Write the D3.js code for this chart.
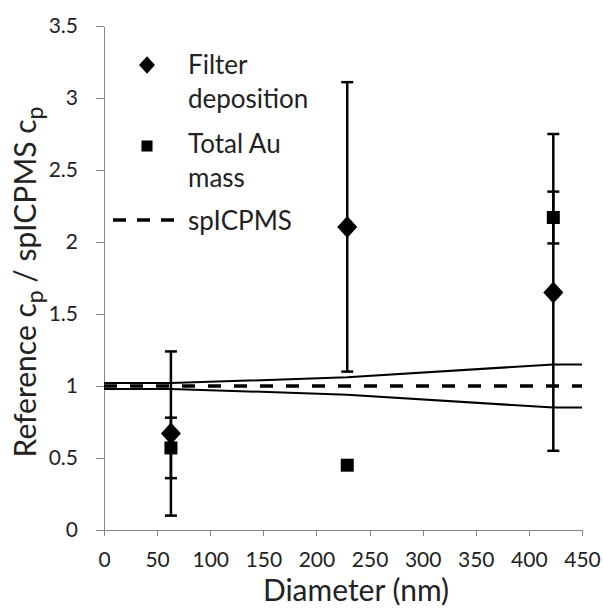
<!DOCTYPE html>
<meta charset="utf-8">
<style>
html, body { margin: 0; padding: 0; background: #fff; }
svg { display: block; }
text { font-family: Lato, "Open Sans", sans-serif; fill: #222; }
.axis path, .axis line { stroke: #868686; stroke-width: 1px; shape-rendering: crispEdges; }
.axis text { font-size: 21px; fill: #222; }
</style>
<svg width="603" height="611"></svg>
<script src="https://cdnjs.cloudflare.com/ajax/libs/d3/7.8.5/d3.min.js"></script>
<script>
// data
var diameter = [63, 229, 423];
var filterDep = [0.67, 2.105, 1.65];
var filterErr = [0.57, 1.005, 1.10];
var totalAu = [0.57, 0.45, 2.17];
var totalAuErr = [0.21, 0, 0.18];
var envD = [0, 63, 229, 423, 450];
var envUpper = [1.02, 1.02, 1.06, 1.15, 1.15];
var envLower = [0.98, 0.98, 0.94, 0.85, 0.85];
var spD = [0, 450];
var spVal = [1, 1];
var xTicks = [0, 50, 100, 150, 200, 250, 300, 350, 400, 450];
var yTicks = [0, 0.5, 1, 1.5, 2, 2.5, 3, 3.5];

var svg = d3.select("svg");
var x = d3.scaleLinear().domain([0, 450]).range([104, 582]);
var y = d3.scaleLinear().domain([0, 3.5]).range([530, 26]);

svg.append("g")
    .attr("class", "axis")
    .attr("transform", "translate(0," + y(0) + ")")
    .call(d3.axisBottom(x).tickValues(xTicks).tickSize(6).tickSizeOuter(0).tickPadding(16))
    .call(function(g) { g.select(".domain").attr("d", "M" + (x(0) - 8) + ",0.5H" + x(450)); });

svg.append("g")
    .attr("class", "axis")
    .attr("transform", "translate(" + x(0) + ",0)")
    .call(d3.axisLeft(y).tickValues(yTicks).tickFormat(function(d) { return String(d); })
        .tickSize(8).tickSizeOuter(0).tickPadding(18));

// uncertainty envelope
var envLine = d3.line()
    .x(function(d) { return x(d[0]); })
    .y(function(d) { return y(d[1]); });

[envUpper, envLower].forEach(function(vals) {
    svg.append("path")
        .datum(envD.map(function(d, i) { return [d, vals[i]]; }))
        .attr("d", envLine)
        .attr("fill", "none")
        .attr("stroke", "#000")
        .attr("stroke-width", 2);
});

// spICPMS reference
svg.append("path")
    .datum(spD.map(function(d, i) { return [d, spVal[i]]; }))
    .attr("d", envLine)
    .attr("fill", "none")
    .attr("stroke", "#000")
    .attr("stroke-width", 3.5)
    .attr("stroke-dasharray", "13,13");

// error bars
function errorBars(vals, errs) {
    var g = svg.append("g").attr("stroke", "#000").attr("stroke-width", 2.5);
    diameter.forEach(function(d, i) {
        if (!errs[i]) return;
        var cx = x(d), y1 = y(vals[i] + errs[i]), y2 = y(vals[i] - errs[i]);
        g.append("line").attr("x1", cx).attr("x2", cx).attr("y1", y1).attr("y2", y2);
        g.append("line").attr("x1", cx - 6).attr("x2", cx + 6).attr("y1", y1).attr("y2", y1);
        g.append("line").attr("x1", cx - 6).attr("x2", cx + 6).attr("y1", y2).attr("y2", y2);
    });
}
errorBars(filterDep, filterErr);
errorBars(totalAu, totalAuErr);

var diamond = "M0,-11L10,0L0,11L-10,0Z";
var square = "M-6.5,-6.5H6.5V6.5H-6.5Z";

svg.append("g").selectAll("path")
    .data(diameter)
    .enter().append("path")
    .attr("d", diamond)
    .attr("transform", function(d, i) { return "translate(" + x(d) + "," + y(filterDep[i]) + ")"; })
    .attr("fill", "#000");

svg.append("g").selectAll("path")
    .data(diameter)
    .enter().append("path")
    .attr("d", square)
    .attr("transform", function(d, i) { return "translate(" + x(d) + "," + y(totalAu[i]) + ")"; })
    .attr("fill", "#000");

// legend
var leg = svg.append("g").attr("font-size", 26);
leg.append("path").attr("d", diamond).attr("transform", "translate(147,65) scale(0.8)").attr("fill", "#000");
leg.append("path").attr("d", square).attr("transform", "translate(147,146) scale(0.85)").attr("fill", "#000");
leg.append("line").attr("x1", 113).attr("x2", 176).attr("y1", 220).attr("y2", 220)
    .attr("stroke", "#000").attr("stroke-width", 3.5).attr("stroke-dasharray", "13,11");
[["Filter", 74], ["deposition", 108], ["Total Au", 153], ["mass", 187], ["spICPMS", 230]].forEach(function(t) {
    leg.append("text").attr("x", 188).attr("y", t[1]).text(t[0]);
});

// axis titles
svg.append("text")
    .attr("x", 356).attr("y", 601)
    .attr("text-anchor", "middle")
    .attr("font-size", 30)
    .text("Diameter (nm)");

var yt = svg.append("text")
    .attr("transform", "translate(36,282) rotate(-90)")
    .attr("text-anchor", "middle")
    .attr("font-size", 30);
yt.append("tspan").text("Reference c");
yt.append("tspan").attr("dy", 7).attr("font-size", 23).text("p");
yt.append("tspan").attr("dy", -7).text(" / spICPMS c");
yt.append("tspan").attr("dy", 7).attr("font-size", 23).text("p");
</script>
